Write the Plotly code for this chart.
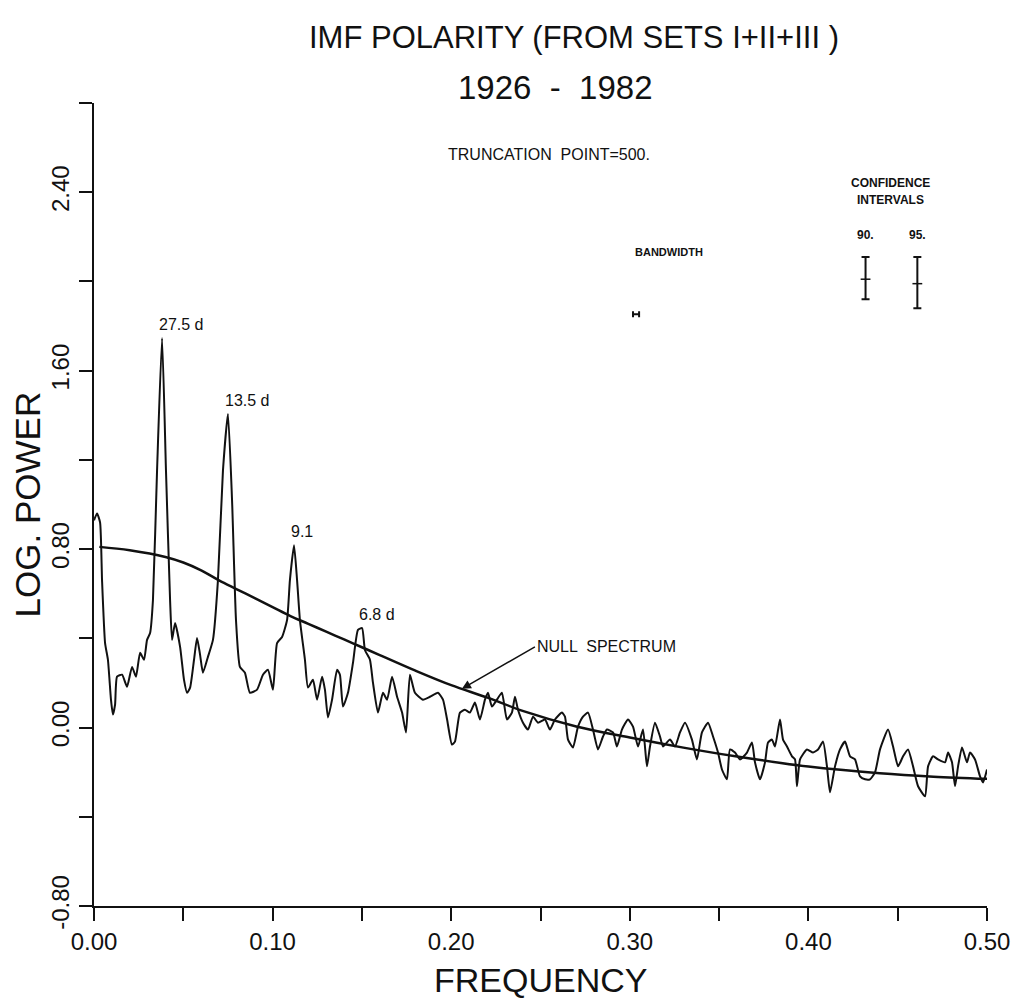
import numpy as np
import plotly.graph_objects as go

# ---------------- data ----------------
freq = [0.000, 0.0017, 0.0034, 0.0045, 0.0062, 0.0078, 0.0095, 0.0106, 0.0118, 0.0129,
        0.0157, 0.0185, 0.0213, 0.0235, 0.0258, 0.0280, 0.0297, 0.0314, 0.0330, 0.0353,
        0.0381, 0.0403, 0.0426, 0.0437, 0.0454, 0.0482, 0.0504, 0.0521, 0.0538, 0.0560,
        0.0577, 0.0594, 0.0610, 0.0638, 0.0666, 0.0694, 0.0722, 0.0750, 0.0773, 0.0795,
        0.0817, 0.0845, 0.0873, 0.0913, 0.0946, 0.0974, 0.1002, 0.1025, 0.1053, 0.1081,
        0.1097, 0.1120, 0.1137, 0.1153, 0.1181, 0.1198, 0.1226, 0.1249, 0.1277, 0.1293,
        0.1310, 0.1333, 0.1361, 0.1377, 0.1394, 0.1422, 0.1450, 0.1478, 0.1501, 0.1517,
        0.1545, 0.1562, 0.1590, 0.1618, 0.1641, 0.1669, 0.1697, 0.1725, 0.1747, 0.1769,
        0.1797, 0.1842, 0.1881, 0.1926, 0.1954, 0.1977, 0.2004, 0.2021, 0.2049, 0.2077,
        0.2105, 0.2133, 0.2161, 0.2189, 0.2206, 0.2228, 0.2256, 0.2284, 0.2312, 0.2340,
        0.2357, 0.2374, 0.2402, 0.2430, 0.2458, 0.2486, 0.2525, 0.2553, 0.2581, 0.2620,
        0.2637, 0.2654, 0.2682, 0.2710, 0.2738, 0.2766, 0.2794, 0.2822, 0.2850, 0.2872,
        0.2906, 0.2928, 0.2956, 0.2990, 0.3018, 0.3046, 0.3074, 0.3096, 0.3113, 0.3141,
        0.3169, 0.3186, 0.3225, 0.3253, 0.3281, 0.3309, 0.3348, 0.3376, 0.3404, 0.3438,
        0.3466, 0.3494, 0.3516, 0.3544, 0.3561, 0.3589, 0.3617, 0.3656, 0.3684, 0.3701,
        0.3729, 0.3757, 0.3774, 0.3796, 0.3813, 0.3841, 0.3858, 0.3880, 0.3908, 0.3925,
        0.3936, 0.3953, 0.3992, 0.4026, 0.4054, 0.4082, 0.4104, 0.4121, 0.4149, 0.4177,
        0.4205, 0.4233, 0.4261, 0.4289, 0.4317, 0.4345, 0.4373, 0.4401, 0.4446, 0.4474,
        0.4502, 0.4530, 0.4558, 0.4586, 0.4614, 0.4653, 0.4670, 0.4698, 0.4726, 0.4765,
        0.4782, 0.4804, 0.4821, 0.4838, 0.4860, 0.4888, 0.4905, 0.4933, 0.4961, 0.4978,
        0.5000]
log_power = [0.929, 0.960, 0.920, 0.661, 0.379, 0.304, 0.125, 0.058, 0.103, 0.228,
             0.237, 0.183, 0.272, 0.228, 0.335, 0.304, 0.393, 0.424, 0.571, 1.152,
             1.746, 1.152, 0.571, 0.393, 0.469, 0.362, 0.214, 0.156, 0.179, 0.304,
             0.402, 0.326, 0.246, 0.317, 0.393, 0.661, 1.152, 1.406, 1.018, 0.482,
             0.272, 0.246, 0.156, 0.170, 0.237, 0.259, 0.170, 0.379, 0.406, 0.482,
             0.661, 0.817, 0.661, 0.482, 0.304, 0.179, 0.214, 0.125, 0.228, 0.170,
             0.045, 0.125, 0.259, 0.237, 0.094, 0.156, 0.290, 0.438, 0.446, 0.348,
             0.304, 0.201, 0.067, 0.156, 0.125, 0.228, 0.138, 0.067, -0.022, 0.237,
             0.156, 0.125, 0.138, 0.156, 0.125, 0.036, -0.076, -0.063, 0.067, 0.080,
             0.067, 0.112, 0.036, 0.125, 0.156, 0.094, 0.125, 0.156, 0.036, 0.067,
             0.138, 0.080, 0.022, -0.009, 0.049, 0.022, 0.036, -0.009, 0.036, 0.067,
             0.049, -0.054, -0.089, 0.004, 0.049, 0.067, -0.009, -0.098, -0.040, -0.009,
             -0.022, -0.085, -0.009, 0.036, 0.004, -0.085, -0.009, -0.174, -0.085, 0.022,
             -0.040, -0.085, -0.054, -0.085, -0.022, 0.022, -0.054, -0.143, -0.022, 0.022,
             -0.040, -0.112, -0.188, -0.232, -0.098, -0.112, -0.143, -0.112, -0.067, -0.156,
             -0.232, -0.156, -0.067, -0.054, -0.085, 0.036, -0.054, -0.085, -0.129, -0.143,
             -0.263, -0.143, -0.098, -0.112, -0.098, -0.063, -0.174, -0.290, -0.174, -0.098,
             -0.063, -0.129, -0.143, -0.219, -0.232, -0.232, -0.201, -0.098, -0.009, -0.085,
             -0.174, -0.129, -0.098, -0.174, -0.263, -0.308, -0.174, -0.129, -0.143, -0.156,
             -0.112, -0.156, -0.263, -0.174, -0.089, -0.156, -0.112, -0.143, -0.219, -0.246,
             -0.188]

null_freq = [0.003, 0.020, 0.040, 0.050, 0.060, 0.070, 0.080, 0.090, 0.100, 0.110,
             0.120, 0.130, 0.140, 0.150, 0.160, 0.180, 0.200, 0.220, 0.240, 0.270,
             0.300, 0.330, 0.360, 0.400, 0.440, 0.470, 0.500]
null_power = [0.81, 0.795, 0.765, 0.74, 0.705, 0.66, 0.62, 0.58, 0.54, 0.50,
              0.465, 0.43, 0.395, 0.36, 0.325, 0.255, 0.19, 0.135, 0.075, 0.005,
              -0.045, -0.09, -0.13, -0.175, -0.205, -0.22, -0.23]

peak_labels = ["27.5 d", "13.5 d", "9.1", "6.8 d"]
peak_freqs = [0.0381, 0.0750, 0.1120, 0.1501]

ci_labels = ["90.", "95."]
ci_freq = [0.432, 0.461]
ci_center = [2.01, 1.99]
ci_upper = [0.10, 0.12]
ci_lower = [0.09, 0.11]

bandwidth_freq = 0.3035
bandwidth_power = 1.853
bandwidth_half = 0.0017

x_tick_vals = [0.0, 0.1, 0.2, 0.3, 0.4, 0.5]
x_tick_text = ["0.00", "0.10", "0.20", "0.30", "0.40", "0.50"]
y_tick_vals = [2.4, 1.6, 0.8, 0.0, -0.8]
y_tick_text = ["2.40", "1.60", "0.80", "0.00", "-0.80"]

FONT = "Liberation Sans, Arial, sans-serif"
BLACK = "#111111"

fig = go.Figure()

fig.add_trace(go.Scatter(x=freq, y=log_power, mode="lines",
                         line=dict(color=BLACK, width=2, shape="spline", smoothing=0.5),
                         hoverinfo="skip", showlegend=False))
fig.add_trace(go.Scatter(x=null_freq, y=null_power, mode="lines",
                         line=dict(color=BLACK, width=2.5, shape="spline"),
                         hoverinfo="skip", showlegend=False))

# confidence intervals
fig.add_trace(go.Scatter(x=ci_freq, y=ci_center, mode="markers",
                         marker=dict(symbol="line-ew", size=7,
                                     line=dict(color=BLACK, width=1.5)),
                         error_y=dict(type="data", symmetric=False, array=ci_upper,
                                      arrayminus=ci_lower, color=BLACK,
                                      thickness=2, width=4),
                         hoverinfo="skip", showlegend=False))
# bandwidth bar
fig.add_trace(go.Scatter(x=[bandwidth_freq], y=[bandwidth_power], mode="markers",
                         marker=dict(size=1, color=BLACK),
                         error_x=dict(type="constant", value=bandwidth_half,
                                      color=BLACK, thickness=2, width=3),
                         hoverinfo="skip", showlegend=False))

annotations = []
# title
annotations.append(dict(text="IMF POLARITY (FROM SETS I+II+III )", xref="paper", yref="paper",
                        x=0.538, y=1.081, xanchor="center", yanchor="middle", showarrow=False,
                        font=dict(family=FONT, size=31, color=BLACK)))
annotations.append(dict(text="1926  -  1982", xref="paper", yref="paper",
                        x=0.517, y=1.0187, xanchor="center", yanchor="middle", showarrow=False,
                        font=dict(family=FONT, size=33, color=BLACK)))
# axis titles
annotations.append(dict(text="LOG. POWER", xref="paper", yref="paper",
                        x=-0.074, y=0.5, xanchor="center", yanchor="middle",
                        textangle=-90, showarrow=False,
                        font=dict(family=FONT, size=35, color=BLACK)))
annotations.append(dict(text="FREQUENCY", xref="paper", yref="paper",
                        x=0.5, y=-0.092, xanchor="center", yanchor="middle", showarrow=False,
                        font=dict(family=FONT, size=34, color=BLACK)))
# peak labels
for lab, pf in zip(peak_labels, peak_freqs):
    py = float(np.interp(pf, freq, log_power))
    annotations.append(dict(text=lab, x=pf, y=py, xanchor="left", yanchor="bottom",
                            xshift=-5, yshift=3, showarrow=False,
                            font=dict(family=FONT, size=16, color=BLACK)))
# null spectrum arrow
tip_f = 0.206
annotations.append(dict(text="NULL  SPECTRUM", x=tip_f,
                        y=float(np.interp(tip_f, null_freq, null_power)),
                        ax=73, ay=-42, xanchor="left", yanchor="middle",
                        showarrow=True, arrowhead=2, arrowsize=1.2, arrowwidth=1.5,
                        arrowcolor=BLACK,
                        font=dict(family=FONT, size=16, color=BLACK)))
# other texts
annotations.append(dict(text="TRUNCATION  POINT=500.", x=0.255, y=2.571, showarrow=False,
                        font=dict(family=FONT, size=16, color=BLACK)))
annotations.append(dict(text="<b>BANDWIDTH</b>", x=0.302, y=2.13, xanchor="left",
                        showarrow=False, font=dict(family=FONT, size=11, color=BLACK)))
annotations.append(dict(text="<b>CONFIDENCE</b>", x=0.446, y=2.44, showarrow=False,
                        font=dict(family=FONT, size=12, color=BLACK)))
annotations.append(dict(text="<b>INTERVALS</b>", x=0.446, y=2.366, showarrow=False,
                        font=dict(family=FONT, size=12, color=BLACK)))
for lab, cf in zip(ci_labels, ci_freq):
    annotations.append(dict(text="<b>" + lab + "</b>", x=cf, y=2.21, showarrow=False,
                            font=dict(family=FONT, size=12, color=BLACK)))

# the page body adds an 8 px offset, so the figure is 8 px smaller on each side
fig.update_layout(
    width=1011, height=997,
    margin=dict(l=86, r=32, t=95, b=99, autoexpand=False),
    paper_bgcolor="white", plot_bgcolor="white",
    font=dict(family=FONT, color=BLACK),
    annotations=annotations,
    showlegend=False,
)
fig.update_xaxes(range=[0, 0.5], showgrid=False, zeroline=False, automargin=False,
                 showline=True, linecolor=BLACK, linewidth=2,
                 ticks="outside", ticklen=13, tickwidth=2, tickcolor=BLACK,
                 tickvals=x_tick_vals, ticktext=x_tick_text,
                 tickfont=dict(family=FONT, size=24, color=BLACK),
                 minor=dict(dtick=0.05, tick0=0, ticks="outside", ticklen=13,
                            tickwidth=2, tickcolor=BLACK))
fig.update_yaxes(range=[-0.8, 2.8], showgrid=False, zeroline=False, automargin=False,
                 showline=True, linecolor=BLACK, linewidth=2,
                 ticks="outside", ticklen=13, tickwidth=2, tickcolor=BLACK,
                 tickvals=y_tick_vals, ticktext=y_tick_text, tickangle=-90,
                 tickfont=dict(family=FONT, size=24, color=BLACK),
                 minor=dict(dtick=0.4, tick0=0, ticks="outside", ticklen=13,
                            tickwidth=2, tickcolor=BLACK))

fig.write_html("out.html")
